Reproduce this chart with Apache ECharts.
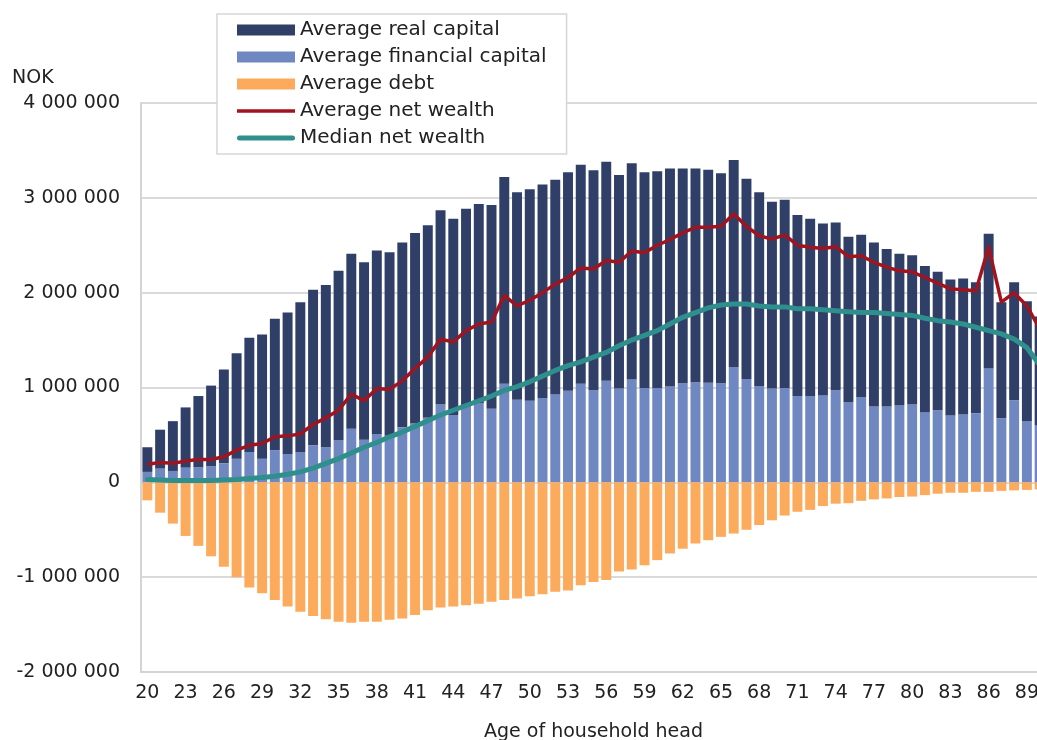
<!DOCTYPE html>
<html>
<head>
<meta charset="utf-8">
<script src="https://cdn.jsdelivr.net/npm/echarts@6/dist/echarts.min.js"></script>
<style>
  html, body { margin: 0; padding: 0; background: #fff; }
  #chart { width: 1037px; height: 740px; }
</style>
</head>
<body>
<div id="chart"></div>
<script>
// ages of household head
var ages = ['20','21','22','23','24','25','26','27','28','29',
            '30','31','32','33','34','35','36','37','38','39',
            '40','41','42','43','44','45','46','47','48','49',
            '50','51','52','53','54','55','56','57','58','59',
            '60','61','62','63','64','65','66','67','68','69',
            '70','71','72','73','74','75','76','77','78','79',
            '80','81','82','83','84','85','86','87','88','89',
            '90'];

// NOK
var financialCapital = [110000,145000,120000,155000,160000,170000,200000,250000,320000,250000,
    340000,300000,320000,390000,370000,440000,565000,450000,510000,490000,
    580000,620000,680000,820000,710000,800000,830000,775000,1040000,870000,
    860000,890000,925000,965000,1040000,970000,1070000,990000,1085000,995000,
    995000,1010000,1045000,1055000,1050000,1045000,1215000,1090000,1015000,990000,
    995000,910000,910000,915000,970000,845000,900000,800000,800000,810000,
    820000,740000,760000,705000,715000,730000,1200000,675000,865000,645000,
    600000];

var realCapital = [260000,410000,525000,635000,750000,850000,990000,1110000,1205000,1310000,
    1385000,1490000,1580000,1640000,1710000,1790000,1845000,1870000,1935000,1935000,
    1950000,2010000,2030000,2050000,2070000,2085000,2105000,2150000,2180000,2190000,
    2230000,2250000,2265000,2305000,2310000,2320000,2310000,2250000,2280000,2275000,
    2285000,2300000,2265000,2255000,2245000,2215000,2185000,2110000,2045000,1970000,
    1985000,1910000,1870000,1815000,1770000,1745000,1710000,1730000,1660000,1600000,
    1575000,1540000,1460000,1435000,1435000,1380000,1420000,1225000,1245000,1265000,
    1150000];

var debt = [-190000,-320000,-435000,-565000,-670000,-780000,-890000,-1000000,-1110000,-1170000,
    -1240000,-1310000,-1365000,-1410000,-1445000,-1470000,-1480000,-1470000,-1470000,-1450000,
    -1435000,-1400000,-1350000,-1320000,-1310000,-1295000,-1280000,-1260000,-1240000,-1225000,
    -1200000,-1180000,-1155000,-1140000,-1085000,-1050000,-1030000,-940000,-920000,-875000,
    -820000,-750000,-700000,-645000,-610000,-575000,-540000,-500000,-450000,-400000,
    -350000,-310000,-290000,-250000,-225000,-220000,-195000,-180000,-170000,-155000,
    -150000,-135000,-120000,-110000,-110000,-100000,-100000,-90000,-85000,-80000,
    -75000];

var avgNetWealth = [190000,210000,200000,225000,240000,240000,270000,340000,390000,410000,
    480000,490000,510000,610000,680000,760000,930000,860000,990000,980000,
    1070000,1200000,1320000,1510000,1480000,1600000,1670000,1690000,1970000,1860000,
    1920000,2000000,2090000,2160000,2260000,2250000,2340000,2320000,2440000,2420000,
    2500000,2560000,2630000,2690000,2690000,2700000,2830000,2700000,2600000,2565000,
    2610000,2500000,2480000,2465000,2485000,2380000,2390000,2320000,2270000,2230000,
    2220000,2160000,2100000,2040000,2030000,2020000,2480000,1900000,2000000,1860000,
    1620000];

var medianNetWealth = [30000,25000,20000,20000,20000,20000,25000,30000,40000,50000,
    65000,85000,110000,150000,200000,250000,310000,370000,420000,480000,
    530000,590000,650000,710000,760000,810000,860000,910000,970000,1010000,
    1060000,1120000,1180000,1230000,1270000,1320000,1370000,1440000,1500000,1550000,
    1600000,1670000,1740000,1790000,1840000,1870000,1880000,1880000,1860000,1850000,
    1850000,1830000,1830000,1820000,1810000,1800000,1790000,1790000,1780000,1770000,
    1760000,1730000,1705000,1690000,1670000,1635000,1600000,1565000,1510000,1420000,
    1240000];

var seriesNames = ['Average real capital', 'Average financial capital', 'Average debt',
                   'Average net wealth', 'Median net wealth'];

function nok(v){
	var s = String(Math.abs(v)).replace(/\B(?=(\d{3})+(?!\d))/g, ' ');
	return (v < 0 ? '-' : '') + s;
}

var font = 'DejaVu Sans';
var myChart = echarts.init(document.getElementById('chart'));
var option = {
	animation: false,
	backgroundColor: '#fff',
	textStyle: { fontFamily: font },
	grid: { left: 141, right: -9, top: 103, bottom: 68, outerBoundsMode: 'none' },
	graphic: [{
		type: 'text', left: 12, top: 69,
		style: { text: 'NOK', fontFamily: font, fontSize: 19, fill: '#222' }
	}],
	legend: {
		data: [
			{ name: seriesNames[0], icon: 'rect' },
			{ name: seriesNames[1], icon: 'rect' },
			{ name: seriesNames[2], icon: 'rect' },
			{ name: seriesNames[3], icon: 'path://M0,0H58V3.5H0Z' },
			{ name: seriesNames[4], icon: 'path://M2.5,0H55.5A2.5,2.5,0,0,1,55.5,5H2.5A2.5,2.5,0,0,1,2.5,0Z' }
		],
		orient: 'vertical',
		left: 217, top: 14,
		padding: [6, 20, 6, 20],
		itemWidth: 58, itemHeight: 11, itemGap: 7,
		symbolKeepAspect: true,
		backgroundColor: '#fff',
		borderColor: '#d6d6d6', borderWidth: 1.5,
		textStyle: { fontFamily: font, fontSize: 20, color: '#222', lineHeight: 20 }
	},
	xAxis: {
		type: 'category',
		data: ages,
		name: 'Age of household head',
		nameLocation: 'middle',
		nameGap: 51,
		nameTextStyle: { fontFamily: font, fontSize: 19, color: '#222' },
		axisLine: { onZero: false, lineStyle: { color: '#d4d4d4', width: 2 } },
		axisTick: { show: false },
		axisLabel: { interval: 2, margin: 12, fontFamily: font, fontSize: 19, color: '#222' }
	},
	yAxis: {
		type: 'value',
		min: -2000000, max: 4000000, interval: 1000000,
		axisLine: { show: true, lineStyle: { color: '#d4d4d4', width: 2 } },
		axisTick: { show: false },
		splitLine: { lineStyle: { color: '#dadada', width: 2 } },
		axisLabel: { margin: 21, fontFamily: font, fontSize: 19, color: '#222', formatter: nok }
	},
	series: [
		{ name: 'Average financial capital', type: 'bar', stack: 'w', data: financialCapital,
		  barCategoryGap: '22%', itemStyle: { color: '#7088c2' } },
		{ name: 'Average real capital', type: 'bar', stack: 'w', data: realCapital,
		  itemStyle: { color: '#2f3f67' } },
		{ name: 'Average debt', type: 'bar', stack: 'w', data: debt,
		  itemStyle: { color: '#fcaa5c' } },
		{ name: 'Median net wealth', type: 'line', data: medianNetWealth, symbol: 'none',
		  lineStyle: { color: '#2f8f8c', width: 5, cap: 'round', join: 'round' },
		  itemStyle: { color: '#2f8f8c' }, z: 3 },
		{ name: 'Average net wealth', type: 'line', data: avgNetWealth, symbol: 'none',
		  lineStyle: { color: '#a0141f', width: 3.5, join: 'round' },
		  itemStyle: { color: '#a0141f' }, z: 4 }
	]
};
myChart.setOption(option);
</script>
</body>
</html>
